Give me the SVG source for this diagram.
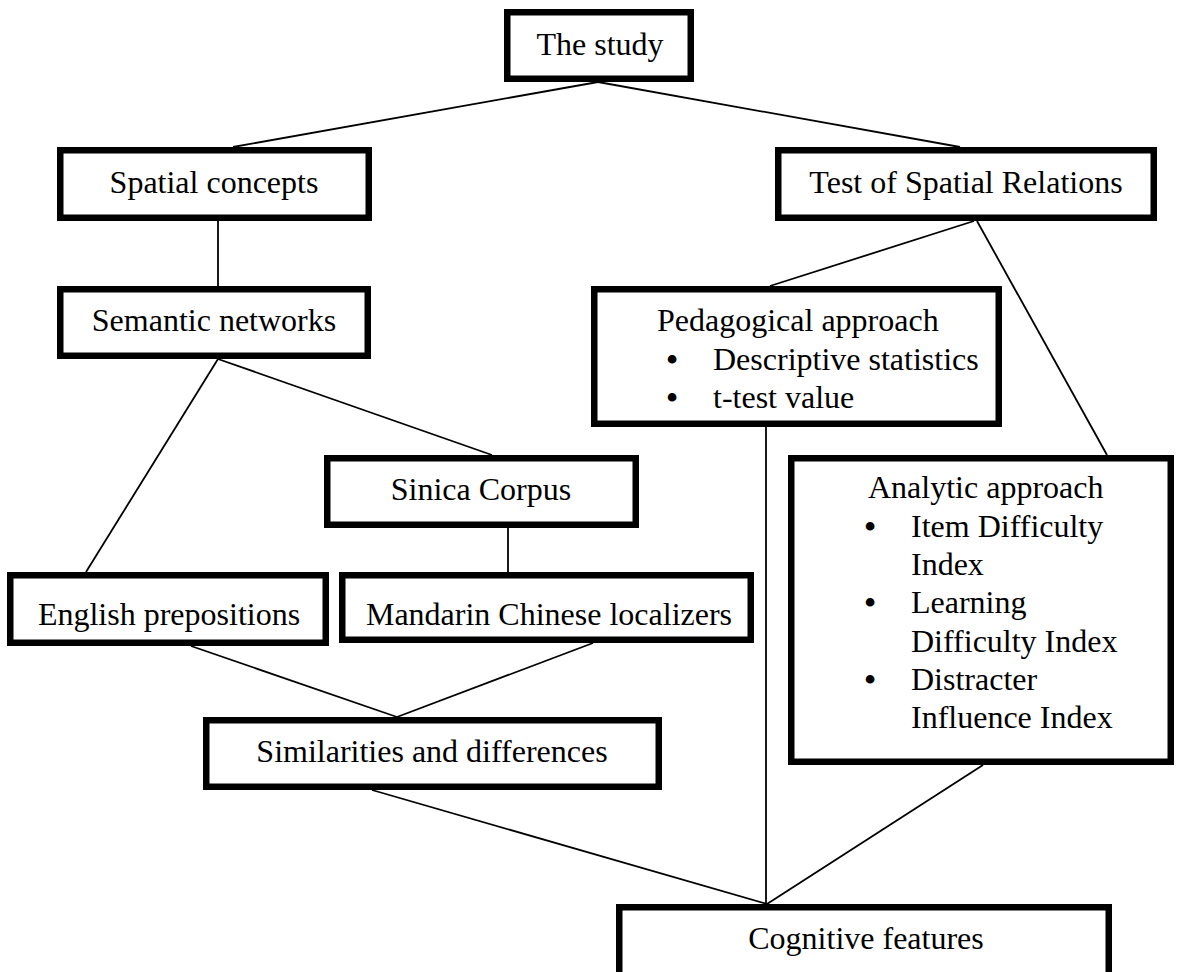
<svg xmlns="http://www.w3.org/2000/svg" width="1179" height="972" viewBox="0 0 1179 972">
  <style>
    .box { fill: #ffffff; stroke: #000000; stroke-width: 6.5; }
    .lbl { font-family: "Liberation Serif", "Times New Roman", serif; font-size: 32px; fill: #000000; }
    .mid { text-anchor: middle; }
    .dot { font-family: "Liberation Serif", "Times New Roman", serif; font-size: 32px; font-weight: bold; fill: #000000; text-anchor: middle; }
    .link { stroke: #000000; stroke-width: 1.8; fill: none; }
  </style>
  <rect width="1179" height="972" fill="#ffffff"/>

  <!-- connectors -->
  <g id="connectors">
    <line class="link" x1="598" y1="82" x2="233" y2="147"/>
    <line class="link" x1="598" y1="82" x2="960" y2="147"/>
    <line class="link" x1="218" y1="221" x2="218" y2="286"/>
    <line class="link" x1="218" y1="359" x2="86" y2="572"/>
    <line class="link" x1="218" y1="359" x2="492" y2="455"/>
    <line class="link" x1="508" y1="528" x2="508" y2="572"/>
    <line class="link" x1="191" y1="646" x2="397" y2="717"/>
    <line class="link" x1="593" y1="643" x2="397" y2="717"/>
    <line class="link" x1="974" y1="221" x2="770" y2="286"/>
    <line class="link" x1="977" y1="221" x2="1107" y2="455"/>
    <line class="link" x1="766" y1="427" x2="766" y2="904"/>
    <line class="link" x1="372" y1="790" x2="767" y2="904"/>
    <line class="link" x1="983" y1="765" x2="767" y2="904"/>
  </g>

  <g id="study">
    <rect class="box" x="507.25" y="12.25" width="183.5" height="66.5"/>
    <text class="lbl mid" x="600" y="55">The study</text>
  </g>

  <g id="spatial-concepts">
    <rect class="box" x="60.25" y="150.25" width="308.5" height="67.5"/>
    <text class="lbl mid" x="214" y="193">Spatial concepts</text>
  </g>

  <g id="test-spatial-relations">
    <rect class="box" x="778.25" y="150.25" width="375.5" height="67.5"/>
    <text class="lbl mid" x="966" y="193">Test of Spatial Relations</text>
  </g>

  <g id="semantic-networks">
    <rect class="box" x="60.25" y="289.25" width="307.5" height="66.5"/>
    <text class="lbl mid" x="214" y="331">Semantic networks</text>
  </g>

  <g id="pedagogical-approach">
    <rect class="box" x="594.25" y="289.25" width="404.5" height="134.5"/>
    <text class="lbl" x="657" y="331">Pedagogical approach</text>
    <text class="dot" x="672" y="370">•</text>
    <text class="lbl" x="713" y="370">Descriptive statistics</text>
    <text class="dot" x="672" y="408">•</text>
    <text class="lbl" x="713" y="408">t-test value</text>
  </g>

  <g id="sinica-corpus">
    <rect class="box" x="327.25" y="458.25" width="308.5" height="66.5"/>
    <text class="lbl mid" x="481" y="500">Sinica Corpus</text>
  </g>

  <g id="analytic-approach">
    <rect class="box" x="791.25" y="458.25" width="379.5" height="303.5"/>
    <text class="lbl" x="868" y="498">Analytic approach</text>
    <text class="dot" x="870" y="537">•</text>
    <text class="lbl" x="911" y="537">Item Difficulty</text>
    <text class="lbl" x="911" y="575">Index</text>
    <text class="dot" x="870" y="613">•</text>
    <text class="lbl" x="911" y="613">Learning</text>
    <text class="lbl" x="911" y="652">Difficulty Index</text>
    <text class="dot" x="870" y="690">•</text>
    <text class="lbl" x="911" y="690">Distracter</text>
    <text class="lbl" x="911" y="728">Influence Index</text>
  </g>

  <g id="english-prepositions">
    <rect class="box" x="10.25" y="575.25" width="315.5" height="67.5"/>
    <text class="lbl mid" x="169" y="625">English prepositions</text>
  </g>

  <g id="mandarin-localizers">
    <rect class="box" x="342.25" y="575.25" width="408.5" height="64.5"/>
    <text class="lbl mid" x="549" y="625">Mandarin Chinese localizers</text>
  </g>

  <g id="similarities-differences">
    <rect class="box" x="206.25" y="720.25" width="452.5" height="66.5"/>
    <text class="lbl mid" x="432" y="762">Similarities and differences</text>
  </g>

  <g id="cognitive-features">
    <rect class="box" x="619.25" y="907.25" width="489.5" height="80"/>
    <text class="lbl mid" x="866" y="949">Cognitive features</text>
  </g>
</svg>
